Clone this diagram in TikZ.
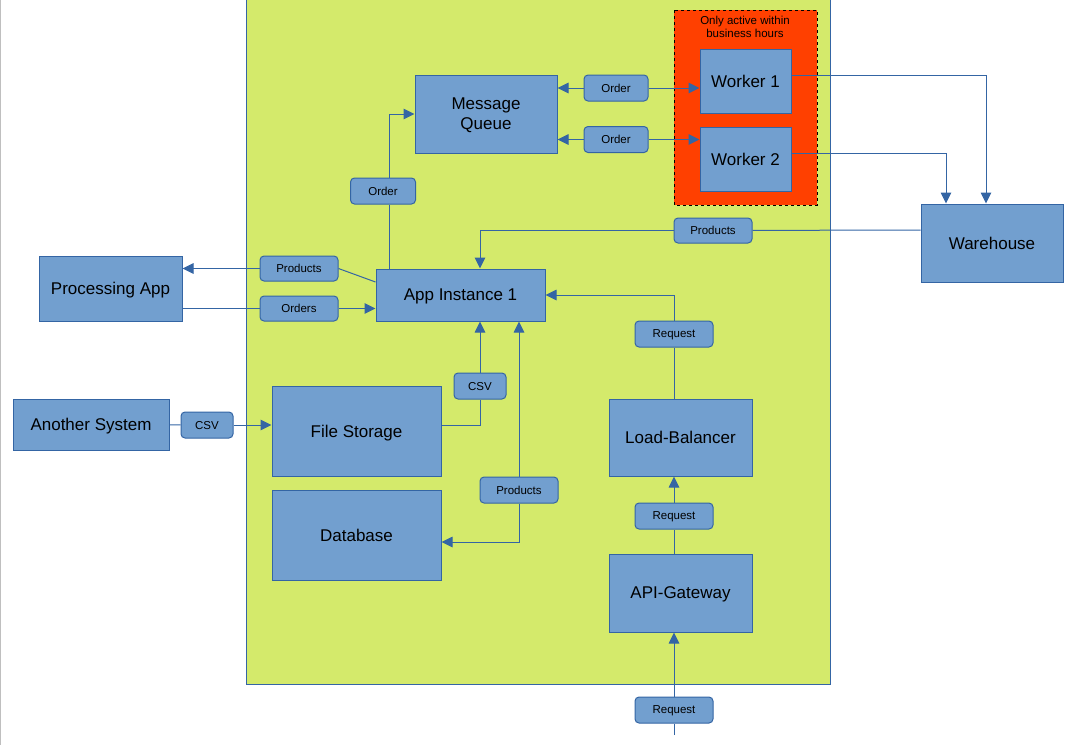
\documentclass[tikz,border=0pt]{standalone}
\usepackage{fontspec}
\setmainfont{Liberation Sans}
\usetikzlibrary{arrows.meta}
\definecolor{boxfill}{HTML}{729FCF}
\definecolor{boxline}{HTML}{3465A4}
\definecolor{zonefill}{HTML}{D4EA6B}
\definecolor{hoursfill}{HTML}{FF4000}

\begin{document}
\begin{tikzpicture}[x=1pt,y=-1pt,
  box/.style={draw=boxline,fill=boxfill,line width=1pt,align=center,inner sep=0pt,text depth=0pt,font=\fontsize{17}{20}\selectfont},
  tag/.style={draw=boxline,fill=boxfill,line width=1pt,rounded corners=4pt,inner sep=0pt,text depth=0pt,minimum height=26pt,font=\fontsize{11.5}{13}\selectfont},
  line/.style={draw=boxline,line width=1pt},
  flow/.style={line,-{Triangle[length=11pt,width=10.5pt]}}]
  \useasboundingbox (0,0) rectangle (1091,745);
  \draw[black!25,line width=1pt] (0.5,0) -- (0.5,745);
  % the service area and the business hours zone
  \draw[draw=boxline,fill=zonefill,line width=0.8pt] (246,-5) rectangle (830,684);
  \draw[black,fill=hoursfill,dashed,line width=0.6pt] (674,10) rectangle (817,205);
  \node[align=center,font=\fontsize{11.5}{13}\selectfont] (hours) at (745,27) {Only active within\\business hours};

  % boxes
  \node[box,minimum width=142pt,minimum height=78pt] (mq) at (486,114) {Message\\Queue};
  \node[box,minimum width=91pt,minimum height=64pt] (w1) at (745.5,81) {Worker 1};
  \node[box,minimum width=91pt,minimum height=64pt] (w2) at (745.5,159) {Worker 2};
  \node[box,minimum width=142pt,minimum height=78pt] (wh) at (992,243) {Warehouse};
  \node[box,minimum width=169pt,minimum height=52pt] (ai) at (460.5,295) {App Instance 1};
  \node[box,minimum width=143pt,minimum height=65pt] (pa) at (110.5,288.5) {Processing App};
  \node[box,minimum width=156pt,minimum height=51pt] (as) at (91,424.5) {Another System};
  \node[box,minimum width=169pt,minimum height=90pt] (fs) at (356.5,431) {File Storage};
  \node[box,minimum width=169pt,minimum height=90pt] (db) at (356.5,535) {Database};
  \node[box,minimum width=143pt,minimum height=77pt] (lb) at (680.5,437.5) {Load-Balancer};
  \node[box,minimum width=143pt,minimum height=78pt] (gw) at (680.5,593) {API-Gateway};

  % labels on the connectors
  \node[tag,minimum width=64pt] (ord1) at (616,88) {Order};
  \node[tag,minimum width=64pt] (ord2) at (616,139.5) {Order};
  \node[tag,minimum width=65pt] (ord3) at (383,191) {Order};
  \node[tag,minimum width=78pt,minimum height=25pt] (prod1) at (713,230.5) {Products};
  \node[tag,minimum width=78pt,minimum height=25pt] (prod2) at (299,268.5) {Products};
  \node[tag,minimum width=78pt,minimum height=25pt] (orders) at (299,308.5) {Orders};
  \node[tag,minimum width=78pt] (prod3) at (519,490) {Products};
  \node[tag,minimum width=52pt] (csv1) at (207,425) {CSV};
  \node[tag,minimum width=52pt] (csv2) at (480,386) {CSV};
  \node[tag,minimum width=78pt] (req1) at (674,334) {Request};
  \node[tag,minimum width=78pt] (req2) at (674,516) {Request};
  \node[tag,minimum width=78pt] (req3) at (674,710) {Request};
  \coordinate (in) at (674,735);

  % connectors
  \draw[flow] (ord1) -- (mq.east |- ord1);
  \draw[flow] (ord1) -- (w1.west |- ord1);
  \draw[flow] (ord2) -- (mq.east |- ord2);
  \draw[flow] (ord2) -- (w2.west |- ord2);
  \draw[line] ([xshift=6pt]ord3.south) -- ([xshift=6pt]ord3.south |- ai.north);
  \draw[flow] ([xshift=6pt]ord3.north) |- (mq.west);
  \draw[flow] ([yshift=6pt]w1.east) -| ([xshift=-6pt]wh.north);
  \draw[flow] ([yshift=6pt]w2.east) -| ([xshift=-46pt]wh.north);
  \draw[line] ([yshift=13pt]wh.west) -- (prod1);
  \draw[flow] (prod1) -| ([xshift=19.5pt]ai.north);
  \draw[line] ([yshift=13pt]ai.west) -- (prod2.east);
  \draw[flow] (prod2) -- (pa.east |- prod2);
  \draw[line] (pa.east |- orders) -- (orders);
  \draw[flow] (orders) -- (ai.west |- orders);
  \draw[line] (as) -- (csv1);
  \draw[flow] (csv1) -- (fs.west |- csv1);
  \draw[line] ([yshift=6pt]fs.east) -| (csv2);
  \draw[flow] (csv2) -- (csv2 |- ai.south);
  \draw[flow] (prod3) -- (prod3 |- ai.south);
  \draw[flow] (prod3) |- ([yshift=-7pt]db.east);
  \draw[line] (lb.north -| req1) -- (req1);
  \draw[flow] (req1) |- (ai.east);
  \draw[line] (gw.north -| req2) -- (req2);
  \draw[flow] (req2) -- (lb.south -| req2);
  \draw[line] (in) -- (req3);
  \draw[flow] (req3) -- (gw.south -| req3);
\end{tikzpicture}
\end{document}
